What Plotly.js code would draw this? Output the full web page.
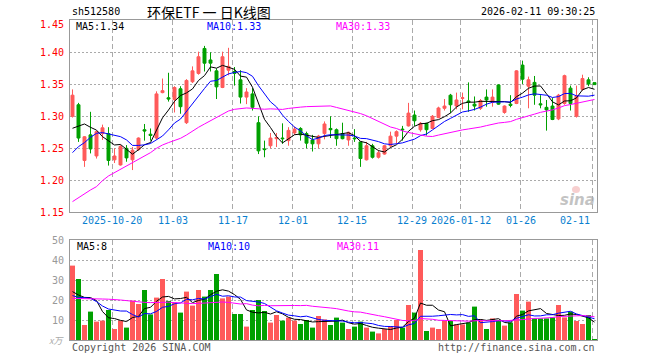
<!DOCTYPE html>
<html><head><meta charset="utf-8">
<script src="https://cdn.plot.ly/plotly-3.0.1.min.js"></script>
<style>html,body{margin:0;padding:0;background:#fff;}#chart{width:660px;height:360px;}</style>
</head><body><div id="chart"></div>
<script>
// ---- data ----
const tickIdx  = [7, 17, 27, 37, 47, 57, 65, 75, 87];
const tickText = ['2025-10-20','11-03','11-17','12-01','12-15','12-29','2026-01-12','01-26','02-11'];
const priceTicks = [1.15, 1.20, 1.25, 1.30, 1.35, 1.40, 1.45];
const volTicks = [10, 20, 30, 40, 50];

const open = [1.300,1.318,1.231,1.271,1.238,1.273,1.273,1.232,1.224,1.250,
  1.232,1.248,1.279,1.272,1.266,1.337,1.329,1.326,1.343,1.290,
  1.354,1.367,1.406,1.388,1.371,1.345,1.372,1.370,1.357,1.330,
  1.335,1.290,1.249,1.254,1.265,1.266,1.262,1.274,1.281,1.273,
  1.263,1.257,1.273,1.281,1.279,1.273,1.263,1.266,1.260,1.232,
  1.254,1.236,1.241,1.254,1.269,1.280,1.285,1.302,1.279,1.289,
  1.281,1.298,1.3125,1.333,1.316,1.328,1.324,1.319,1.3125,1.330,
  1.322,1.349,1.306,1.319,1.320,1.380,1.347,1.353,1.3195,1.314,
  1.316,1.296,1.320,1.344,1.300,1.342,1.357,1.3526];
const high = [1.342,1.321,1.269,1.307,1.277,1.287,1.283,1.250,1.255,1.255,
  1.252,1.267,1.288,1.281,1.339,1.359,1.368,1.347,1.347,1.358,
  1.378,1.401,1.410,1.400,1.375,1.401,1.407,1.377,1.372,1.344,
  1.344,1.300,1.262,1.274,1.274,1.289,1.283,1.284,1.283,1.276,
  1.271,1.271,1.292,1.300,1.281,1.290,1.276,1.280,1.260,1.260,
  1.257,1.247,1.255,1.276,1.278,1.285,1.321,1.309,1.291,1.290,
  1.302,1.315,1.327,1.335,1.337,1.337,1.353,1.331,1.327,1.342,
  1.342,1.350,1.317,1.333,1.372,1.387,1.362,1.363,1.333,1.3255,
  1.329,1.335,1.365,1.348,1.348,1.365,1.361,1.3526];
const low = [1.298,1.260,1.221,1.242,1.234,1.263,1.223,1.227,1.223,1.229,
  1.216,1.246,1.262,1.262,1.264,1.336,1.323,1.306,1.304,1.288,
  1.352,1.365,1.370,1.370,1.327,1.344,1.364,1.348,1.320,1.319,
  1.309,1.241,1.236,1.250,1.252,1.257,1.254,1.271,1.262,1.250,
  1.245,1.250,1.264,1.266,1.254,1.264,1.254,1.260,1.221,1.231,
  1.234,1.234,1.240,1.252,1.257,1.262,1.284,1.285,1.276,1.270,
  1.280,1.297,1.309,1.305,1.311,1.311,1.307,1.309,1.310,1.315,
  1.315,1.318,1.304,1.314,1.319,1.3505,1.3125,1.318,1.3125,1.2776,
  1.294,1.294,1.318,1.309,1.298,1.340,1.347,1.349];
const close = [1.333,1.266,1.268,1.249,1.276,1.282,1.231,1.238,1.253,1.235,
  1.247,1.266,1.277,1.270,1.335,1.340,1.327,1.345,1.315,1.356,
  1.371,1.393,1.383,1.383,1.346,1.393,1.378,1.367,1.330,1.338,
  1.314,1.246,1.248,1.266,1.267,1.265,1.278,1.280,1.271,1.258,
  1.257,1.269,1.288,1.279,1.265,1.265,1.275,1.265,1.234,1.254,
  1.236,1.243,1.254,1.269,1.276,1.279,1.305,1.293,1.289,1.279,
  1.300,1.313,1.316,1.318,1.3255,1.329,1.322,1.316,1.3245,1.3255,
  1.330,1.319,1.316,1.317,1.371,1.358,1.357,1.333,1.318,1.310,
  1.295,1.333,1.3635,1.320,1.332,1.359,1.3505,1.3495];
const volume = [37.2,30.5,7.5,14.2,9.2,9.7,15.0,5.5,9.7,6.2,
  19.7,18.0,25.0,12.8,21.2,30.5,19.5,18.8,13.7,24.2,
  17.2,25.0,21.7,25.0,33.0,20.8,21.7,13.0,13.0,6.7,
  15.0,20.0,14.5,8.7,12.5,9.7,11.2,9.7,8.0,10.0,
  6.2,12.0,10.3,7.5,11.2,8.7,5.5,6.7,9.2,6.2,
  4.2,3.3,5.5,7.0,10.0,6.2,17.5,13.7,45.0,4.5,
  6.2,5.5,9.5,9.5,7.8,7.8,8.7,16.7,10.3,5.5,
  10.8,10.0,7.2,8.7,23.0,14.7,19.2,10.8,10.8,10.8,
  11.3,17.5,11.3,14.2,9.5,8.0,12.5,0.5];

// moving-average values at the left edge (need history before the window)
const ma5Head  = [1.2813,1.2849,1.288,1.2828];
const ma10Head = [1.2432,1.2526,1.2589,1.2672,1.2734,1.2745,1.2724,1.2708,1.2682];
const ma30Head = [1.1667,1.1729,1.1786,1.1849,1.1901,1.1995,1.2068,1.212,1.2161,1.2214,
  1.2276,1.2328,1.238,1.2432,1.25,1.2552,1.2589,1.262,1.2656,1.2708,
  1.2771,1.2828,1.288,1.2932,1.2984,1.3036,1.3083,1.3109,1.312];
const vma5Head  = [24.2,22.5,21.3,21.2];
const vma10Head = [22.2,21.3,21.2,20.8,19.2,17.0,15.5,15.0,14.5];
const vma30Head = [20.8,20.8,20.7,20.7,20.6,20.5,20.4,20.3,20.0,19.7,
  19.3,19.0,18.8,18.7,18.8,18.9,18.9,18.7,18.5,18.3,
  18.2,18.3,18.5,18.7,19.0,19.0,18.8,18.5,18.0];

const priceLabels = ['MA5:1.34','MA10:1.33','MA30:1.33'];
const volLabels = ['MA5:8','MA10:10','MA30:11'];

// ---- build ----
const RED = '#ff5a5a', GREEN = '#00a000';
const MONO = 'DejaVu Sans Mono, monospace';
const idx = close.map((_, i) => i);
function ma(vals, n, head) {
  return vals.map((v, i) => {
    if (i < head.length) return head[i];
    let s = 0; for (let k = i - n + 1; k <= i; k++) s += vals[k];
    return s / n;
  });
}
const W = 660, H = 360;
const L = 70, R = 597;
const pTop = 20.3, pBot = 212.3, vTop = 240, vBot = 340;
const px = x => x / W, py = y => 1 - y / H;

const traces = [
  {type:'candlestick', x: idx, open, high, low, close, xaxis:'x', yaxis:'y',
   increasing:{line:{color:RED,width:1}, fillcolor:RED},
   decreasing:{line:{color:GREEN,width:1}, fillcolor:GREEN},
   whiskerwidth:0, hoverinfo:'skip'},
  {type:'scatter', mode:'lines', x: idx, y: ma(close,5,ma5Head), line:{color:'#000000',width:1}, xaxis:'x', yaxis:'y'},
  {type:'scatter', mode:'lines', x: idx, y: ma(close,10,ma10Head), line:{color:'#0000ff',width:1}, xaxis:'x', yaxis:'y'},
  {type:'scatter', mode:'lines', x: idx, y: ma(close,30,ma30Head), line:{color:'#ff00ff',width:1}, xaxis:'x', yaxis:'y'},
  {type:'bar', x: idx, y: volume, width: 0.83, xaxis:'x2', yaxis:'y2',
   marker:{color: idx.map(i => close[i] >= open[i] ? RED : GREEN), line:{width:0}}},
  {type:'scatter', mode:'lines', x: idx, y: ma(volume,5,vma5Head), line:{color:'#000000',width:1}, xaxis:'x2', yaxis:'y2'},
  {type:'scatter', mode:'lines', x: idx, y: ma(volume,10,vma10Head), line:{color:'#0000ff',width:1}, xaxis:'x2', yaxis:'y2'},
  {type:'scatter', mode:'lines', x: idx, y: ma(volume,30,vma30Head), line:{color:'#ff00ff',width:1}, xaxis:'x2', yaxis:'y2'}
];

const xr = [-(2.5/6), idx.length - 1 + (2.5/6)];
const gridX = tickIdx.map(i => i - 0.35);
const axX = {domain:[px(L), px(R)], range: xr, tickvals: gridX, showticklabels:false, ticks:'',
  showgrid:true, gridcolor:'#aaaaaa', gridwidth:1, griddash:'5px,3px', zeroline:false,
  showline:true, mirror:true, linecolor:'#999999', linewidth:1, fixedrange:true};

const ann = [];
const A = (o) => ann.push(Object.assign({showarrow:false, xref:'paper', yref:'paper'}, o));
A({x: px(L), y: py(12), xanchor:'left', yanchor:'middle', text:'sh512580', font:{family:MONO,size:10,color:'#000'}});
A({x: px(209), y: py(12), xanchor:'center', yanchor:'middle', text:'环保ETF 一 日K线图', font:{family:'Noto Sans CJK SC',size:14,color:'#000'}});
A({x: px(R), y: py(12), xanchor:'right', yanchor:'middle', text:'2026-02-11 09:30:25', font:{family:MONO,size:10,color:'#000'}});
const labColors = ['#000000','#0000ff','#ff00ff'];
const labX = [74, 205, 334];
priceLabels.forEach((t,k)=>A({x:px(labX[k]), y:py(27), xanchor:'left', yanchor:'middle', text:t, font:{family:MONO,size:10,color:labColors[k]}}));
volLabels.forEach((t,k)=>A({x:px(labX[k]+1), y:py(246), xanchor:'left', yanchor:'middle', text:t, font:{family:MONO,size:10,color:labColors[k]}}));
priceTicks.forEach(v => {
  const yy = pBot - (v - 1.15) / 0.30 * (pBot - pTop);
  A({x:px(66), y:py(v === 1.45 ? yy + 4 : yy), xanchor:'right', yanchor:'middle', text:v.toFixed(2), font:{family:MONO,size:10,color:'#ff0000'}});
});
volTicks.forEach(v => {
  const yy = vBot - v / 50 * (vBot - vTop);
  A({x:px(66), y:py(v === 50 ? yy + 1 : yy), xanchor:'right', yanchor:'middle', text:String(v), font:{family:MONO,size:10,color:'#999999'}});
});
A({x:px(66), y:py(340), xanchor:'right', yanchor:'middle', text:'<i>x万</i>', font:{family:'Noto Sans CJK SC',size:9,color:'#aaaaaa'}});
tickIdx.forEach((i,k) => {
  let cx = L + (i - xr[0]) * (R - L) / (xr[1] - xr[0]) - 2;
  if (k === tickIdx.length - 1) cx = 575;
  A({x:px(cx), y:py(220), xanchor:'center', yanchor:'middle', text:tickText[k], font:{family:MONO,size:10,color:'#0a7fd0'}});
});
A({x:px(L), y:py(347), xanchor:'left', yanchor:'middle', text:'Copyright 2026 SINA.COM', font:{family:MONO,size:10,color:'#555555'}});
A({x:px(R), y:py(347), xanchor:'right', yanchor:'middle', text:'http://finance.sina.com.cn', font:{family:MONO,size:10,color:'#555555'}});
A({x:px(577), y:py(200), xanchor:'center', yanchor:'middle', text:'<b><i>sina</i></b>', font:{family:'DejaVu Sans',size:15,color:'rgba(175,175,175,0.75)'}});

const layout = {
  width: W, height: H, margin:{l:0,r:0,t:0,b:0}, paper_bgcolor:'#ffffff', plot_bgcolor:'#ffffff',
  showlegend:false, hovermode:false, dragmode:false,
  xaxis: Object.assign({anchor:'y', rangeslider:{visible:false}}, axX),
  xaxis2: Object.assign({anchor:'y2'}, axX),
  yaxis: {domain:[py(pBot), py(pTop)], range:[1.15,1.45], tickvals:[1.20,1.25,1.30,1.35,1.40], showticklabels:false, ticks:'',
    showgrid:true, gridcolor:'#aaaaaa', gridwidth:1, griddash:'2px,2px', zeroline:false,
    showline:true, mirror:true, linecolor:'#999999', linewidth:1, fixedrange:true},
  yaxis2: {domain:[py(vBot), py(vTop)], range:[0,50], tickvals:[10,20,30,40], showticklabels:false, ticks:'',
    showgrid:true, gridcolor:'#aaaaaa', gridwidth:1, griddash:'2px,2px', zeroline:false,
    showline:true, mirror:true, linecolor:'#999999', linewidth:1, fixedrange:true},
  shapes: [{type:'circle', xref:'paper', yref:'paper', x0:px(572), x1:px(580), y0:py(193), y1:py(186),
    fillcolor:'rgba(240,160,160,0.5)', line:{width:0}, layer:'above'}],
  annotations: ann
};
Plotly.newPlot('chart', traces, layout, {staticPlot:true, displayModeBar:false});
</script></body></html>
